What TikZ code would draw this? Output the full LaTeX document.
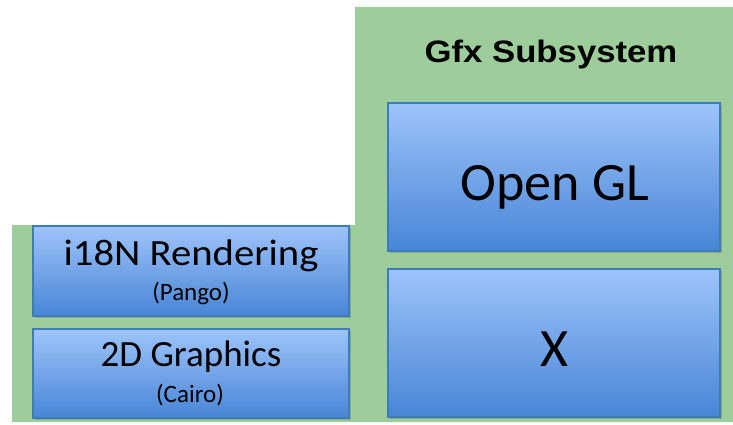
\documentclass[tikz,border=0pt]{standalone}
\usepackage{fontspec}
\setmainfont{Carlito}
\newfontfamily\headfont{Liberation Sans}
\usetikzlibrary{shadows}
\definecolor{bggreen}{RGB}{157,205,155}
\definecolor{boxtop}{RGB}{158,196,250}
\definecolor{boxbot}{RGB}{72,133,214}
\definecolor{boxedge}{RGB}{60,125,185}
\tikzset{
  layerbox/.style={draw=boxedge, line width=1.2pt, top color=boxtop, bottom color=boxbot,
    drop shadow={shadow xshift=1.5pt, shadow yshift=-2pt, opacity=0.35, fill=black!60}},
  bigtxt/.style={anchor=base, inner sep=0pt, font=\fontsize{54}{58}\selectfont},
  midtxt/.style={anchor=base, inner sep=0pt, font=\fontsize{37}{40}\selectfont},
  smalltxt/.style={anchor=base, inner sep=0pt, font=\fontsize{25}{28}\selectfont},
  headtxt/.style={anchor=base, inner sep=0pt, xscale=1.12, font=\headfont\bfseries\fontsize{31}{34}\selectfont}
}
\begin{document}
\begin{tikzpicture}[x=1pt,y=-1pt]
\useasboundingbox (0,0) rectangle (733,425);
% green background (L shape)
\fill[bggreen] (12,225) -- (355,225) -- (355,7) -- (733,7) -- (733,422) -- (12,422) -- cycle;
% boxes
\path[layerbox] (33,226) rectangle (349,316);
\path[layerbox] (33,329) rectangle (349,418);
\path[layerbox] (388,103) rectangle (720,251);
\path[layerbox] (388,269) rectangle (720,417);
% texts
\node[headtxt] (gfx) at (551,63) {Gfx Subsystem};
\node[midtxt, xscale=1.1] (i18n) at (191,265) {i18N Rendering};
\node[smalltxt] (pango) at (191,300) {(Pango)};
\node[midtxt] (g2d) at (191,366) {2D Graphics};
\node[smalltxt] (cairo) at (190,402) {(Cairo)};
\node[bigtxt] (ogl) at (555,200) {Open GL};
\node[bigtxt] (xw) at (555,366) {X};
\end{tikzpicture}
\end{document}
